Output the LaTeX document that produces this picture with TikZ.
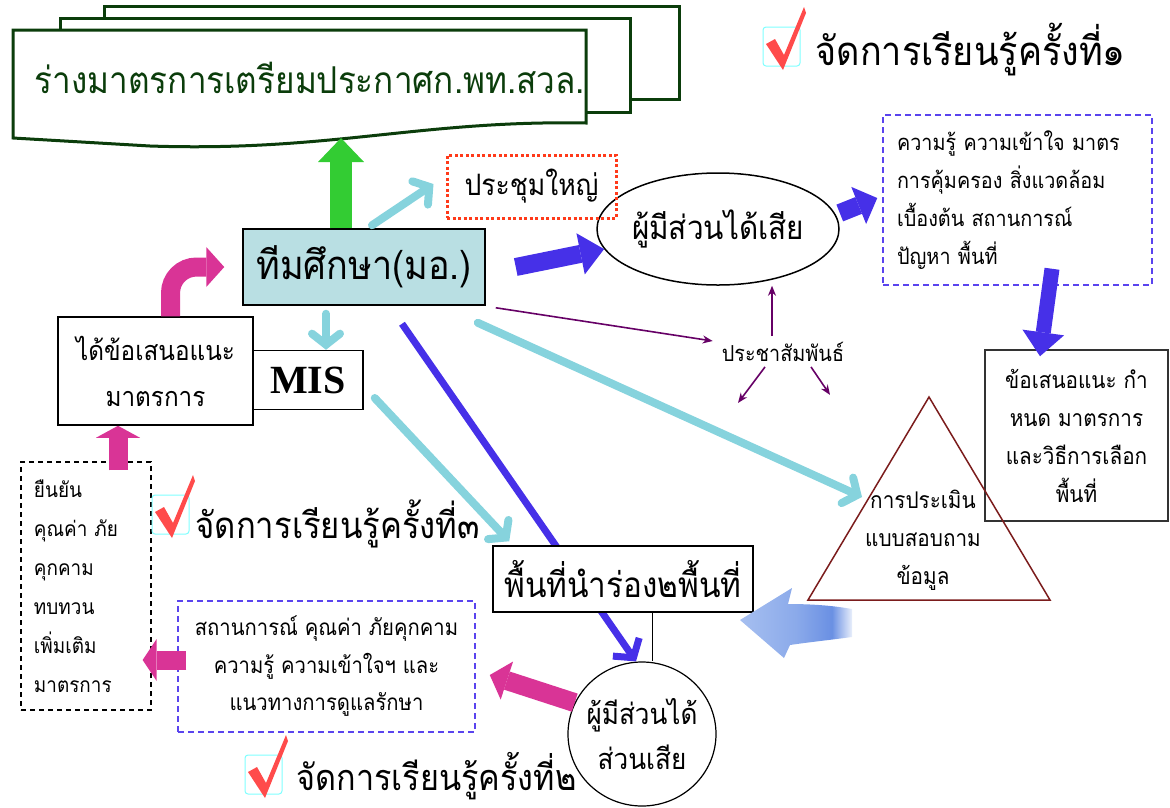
\documentclass[tikz,border=0pt]{standalone}
\usepackage{fontspec}
\newfontfamily\thaifont[Script=Thai, FakeStretch=0.9]{Loma}
\newfontfamily\misfont{Liberation Serif}
\usepackage{tikz}
\usetikzlibrary{arrows.meta, shapes.geometric, positioning, calc}
\definecolor{docgreen}{HTML}{0B3D0B}
\definecolor{arrgreen}{HTML}{33CC33}
\definecolor{teambg}{HTML}{B9DFE3}
\definecolor{skyline}{HTML}{86D3DD}
\definecolor{deepblue}{HTML}{4630E8}
\definecolor{dashblue}{HTML}{5A44EE}
\definecolor{hotpink}{HTML}{D93496}
\definecolor{plum}{HTML}{660066}
\definecolor{meetred}{HTML}{FF3A1A}
\definecolor{tickred}{HTML}{FF4B4B}
\definecolor{tickbox}{HTML}{7FFFFF}
\definecolor{triline}{HTML}{7B1C1C}
\definecolor{arrlight}{HTML}{A6BFF0}
\definecolor{arrmid}{HTML}{6A90E3}
\pgfdeclarehorizontalshading{bluefade}{100bp}{color(0bp)=(arrlight); color(25bp)=(arrlight); color(50bp)=(arrlight!55!arrmid); color(66bp)=(arrmid); color(75bp)=(arrmid!15); color(100bp)=(arrmid!15)}

\begin{document}
\begin{tikzpicture}[x=1pt, y=-1pt,
    th/.style 2 args={font=\thaifont\fontsize{#1}{#2}\selectfont},
    box/.style={draw=black, line width=1.5pt, fill=white, inner sep=0pt},
    dashbox/.style={draw=dashblue, line width=1.5pt, dash pattern=on 6pt off 4pt, inner sep=0pt},
    doc/.style={docgreen, line width=3pt, fill=white},
    pinkfat/.style={hotpink, line width=19pt, -{Triangle[length=18pt, width=40pt, line width=0pt]}},
    bluefat/.style={deepblue, line width=18pt, -{Triangle[length=24pt, width=42pt, line width=0pt]}},
    sky/.style={skyline, line width=8pt, line cap=round, -{Straight Barb[length=11pt, width=28pt, line cap=round]}},
    pr/.style={plum, line width=1.6pt, -{Stealth[length=10pt, width=8pt]}},
    tick/.pic={
      \draw[tickbox, line width=1pt, rounded corners=3pt] (0,0) rectangle (37,39);
      \fill[tickred] (3,17) -- (12,12) -- (21,28) -- (41,-20) -- (43,-14) -- (20,43) -- cycle;
    }]
  \useasboundingbox (0,0) rectangle (1170,807);

  \draw[doc] (104,6) rectangle (679,99);
  \draw[doc] (60,18) rectangle (630,112);
  \draw[doc] (13,30) -- (586,30) -- (586,123) .. controls (420,120) and (330,152) .. (150,146) -- (13,138) -- cycle;
  \node[th={37}{44}, text=docgreen] (draft) at (310,78) {ร่างมาตรการเตรียมประกาศก.พท.สวล.};
  \coordinate (docbase) at (341,138);

  \node[box, fill=teambg, minimum width=242pt, minimum height=76pt, th={40}{46}] (team) at (364,267) {ทีมศึกษา(มอ.)};
  \node[box, minimum width=110pt, minimum height=59pt, font=\misfont\bfseries\fontsize{40}{40}\selectfont] (mis) at (308,380) {MIS};
  \node[box, minimum width=195pt, minimum height=108pt, align=center, th={27}{46}] (advice) at (155.5,371) {ได้ข้อเสนอแนะ\\มาตรการ};
  \node[draw=black, line width=1.2pt, dash pattern=on 5pt off 4pt, inner xsep=13pt, inner ysep=0pt, text width=104pt, minimum height=248pt, align=left, th={21}{39}] (confirm) at (86,586) {ยืนยัน\\คุณค่า ภัย\\คุกคาม\\ทบทวน\\เพิ่มเติม\\มาตรการ};
  \node[dashbox, minimum width=297pt, minimum height=131pt, align=center, th={22.5}{37.5}] (situation) at (326.5,666.5) {สถานการณ์ คุณค่า ภัยคุกคาม\\ความรู้ ความเข้าใจฯ และ\\แนวทางการดูแลรักษา};
  \node[dashbox, inner xsep=14pt, text width=241pt, minimum height=170pt, align=left, th={22}{38}] (knowledge) at (1017.5,200) {ความรู้ ความเข้าใจ มาตร\\การคุ้มครอง สิ่งแวดล้อม\\เบื้องต้น สถานการณ์\\ปัญหา พื้นที่};
  \node[box, draw=black!80, minimum width=183pt, minimum height=171pt, align=center, th={23}{38}] (proposal) at (1076.5,435.5) {ข้อเสนอแนะ กำ\\หนด มาตรการ\\และวิธีการเลือก\\พื้นที่};
  \node[ellipse, draw=black, line width=1.5pt, fill=white, minimum width=242pt, minimum height=112pt, inner sep=0pt, th={33}{40}] (holders) at (718,229) {\makebox[0pt]{ผู้มีส่วนได้เสีย}};
  \node[draw=meetred, line width=3pt, dash pattern=on 3pt off 2.5pt, minimum width=169pt, minimum height=63pt, inner sep=0pt, th={29.5}{36}] (meeting) at (531.5,186.5) {ประชุมใหญ่};
  \node[ellipse, draw=black, line width=1.2pt, fill=white, minimum width=148pt, minimum height=144pt, inner sep=0pt, align=center, th={29}{45}] (stake) at (642,734) {\makebox[0pt]{ผู้มีส่วนได้}\\\makebox[0pt]{ส่วนเสีย}};
  \node[inner sep=0pt, th={22}{26}] (pr) at (783,352) {ประชาสัมพันธ์};

  \draw[triline, line width=1.5pt] (929,397) -- (1050,600) -- (808,600) -- cycle;
  \node[align=center, th={23}{38}] (assess) at (923,540) {การประเมิน\\แบบสอบถาม\\ข้อมูล};
  \coordinate (trileft) at (862,497);

  \draw[deepblue, line width=7pt, -{Straight Barb[length=13pt, width=32pt]}] ([xshift=38pt, yshift=-18pt]team.south) -- ([xshift=-6pt]stake.north);
  \node[box, minimum width=260pt, minimum height=66pt, th={35}{40}] (pilot) at (623,579) {พื้นที่นำร่อง๒พื้นที่};
  \draw[line width=1pt] ([xshift=29pt]pilot.south) -- ([xshift=29pt]pilot.south |- stake.north);

  \draw[arrgreen, line width=22pt, -{Triangle[length=24pt, width=46pt, line width=0pt]}] (team.north -| docbase) -- (docbase);
  \draw[pinkfat, rounded corners=26pt] ([xshift=15pt]advice.north) |- ([xshift=-18pt]team.west);
  \draw[pinkfat, -{Triangle[length=12pt, width=44pt, line width=0pt]}] ([xshift=32pt, yshift=-9pt]confirm.north) -- ([xshift=-37.5pt]advice.south);
  \draw[pinkfat, -{Triangle[length=14pt, width=42pt, line width=0pt]}] ([xshift=9pt, yshift=6.5pt]situation.west) -- ([xshift=-9pt, yshift=-74pt]confirm.east);
  \draw[pinkfat] (stake.155) -- ([xshift=14pt, yshift=-8.5pt]situation.east);
  \draw[bluefat] ([xshift=30pt]team.east) -- (holders.190);
  \draw[bluefat, -{Triangle[length=20pt, width=40pt, line width=0pt]}] ([yshift=16pt]holders.east) -- ([xshift=-5pt, yshift=2pt]knowledge.west);
  \draw[bluefat, line width=15pt] ([xshift=34.5pt, yshift=17pt]knowledge.south) -- ([xshift=-36.5pt, yshift=-7pt]proposal.north);

  \draw[sky] ([xshift=8pt, yshift=3pt]team.north) -- ([xshift=-12pt, yshift=2.5pt]meeting.west);
  \draw[sky] ([xshift=-38pt, yshift=-8pt]team.south) -- ([xshift=18pt]mis.north);
  \draw[sky] ([xshift=11pt, yshift=-18pt]mis.east) -- ([xshift=17pt, yshift=4pt]pilot.north west);
  \draw[sky] ([xshift=-8pt, yshift=-17pt]team.south east) -- (trileft);

  \draw[pr] ([xshift=10pt, yshift=-2pt]team.south east) -- ([xshift=-9pt, yshift=11pt]pr.west);
  \draw[pr] ([xshift=-11pt, yshift=6pt]pr.north) -- ([xshift=-11pt]pr.north |- holders.south);
  \draw[pr] ([xshift=-18pt, yshift=-5pt]pr.south) -- ++(-27,36);
  \draw[pr] ([xshift=28pt, yshift=-5pt]pr.south) -- ++(19,28);

  \shade[shading=bluefade] (740,620) -- (792,588) -- (788,604) .. controls (815,604) and (835,606) .. (852,609) -- (852,637) .. controls (830,640) and (810,642) .. (790,645) -- (784,658) -- cycle;

  \pic at (763,27) {tick};
  \node[anchor=west, th={40}{46}] (learn1) at (812,50) {จัดการเรียนรู้ครั้งที่๑};
  \pic at (152,495) {tick};
  \node[anchor=west, th={36.5}{44}] (learn3) at (192,524) {จัดการเรียนรู้ครั้งที่๓};
  \pic at (245,755) {tick};
  \node[anchor=west, th={36}{44}] (learn2) at (293,776) {จัดการเรียนรู้ครั้งที่๒};
\end{tikzpicture}
\end{document}
